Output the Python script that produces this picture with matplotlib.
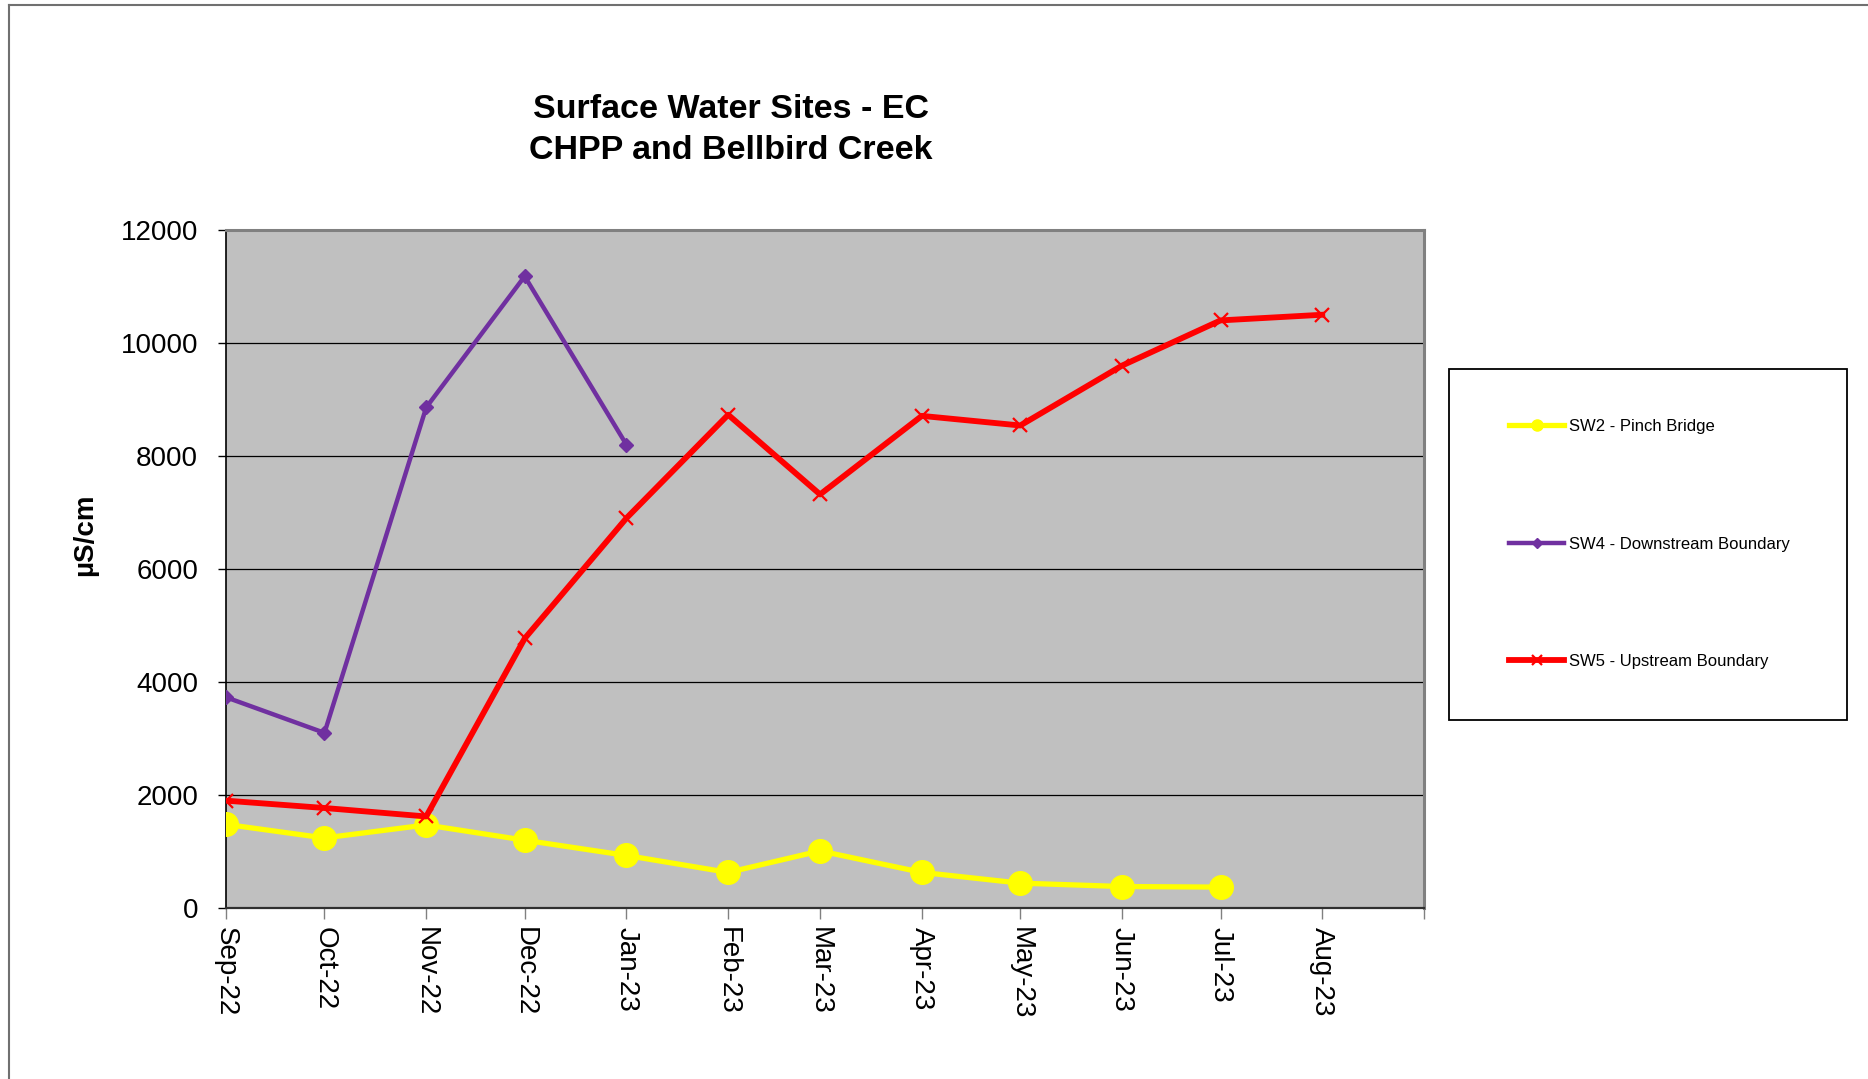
import datetime as dt
import matplotlib
matplotlib.use("Agg")
import matplotlib.pyplot as plt
import matplotlib.dates as mdates
from matplotlib.lines import Line2D

plt.rcParams['font.family'] = ['Liberation Sans', 'DejaVu Sans']

# sample months (first of month)
months = [dt.date(2022, 9, 1), dt.date(2022, 10, 1), dt.date(2022, 11, 1),
          dt.date(2022, 12, 1), dt.date(2023, 1, 1), dt.date(2023, 2, 1),
          dt.date(2023, 3, 1), dt.date(2023, 4, 1), dt.date(2023, 5, 1),
          dt.date(2023, 6, 1), dt.date(2023, 7, 1), dt.date(2023, 8, 1)]

sw2 = [1480, 1240, 1470, 1200, 930, 630, 1010, 630, 440, 380, 370]
sw4 = [3730, 3100, 8860, 11180, 8200]
sw5 = [1900, 1770, 1620, 4770, 6900, 8730, 7320, 8710, 8540, 9600, 10400, 10500]

labels = ['SW2 - Pinch Bridge', 'SW4 - Downstream Boundary', 'SW5 - Upstream Boundary']
tick_labels = ['Sep-22', 'Oct-22', 'Nov-22', 'Dec-22', 'Jan-23', 'Feb-23',
               'Mar-23', 'Apr-23', 'May-23', 'Jun-23', 'Jul-23', 'Aug-23', '']
yticks = [0, 2000, 4000, 6000, 8000, 10000, 12000]

W, H = 1868, 1079
fig = plt.figure(figsize=(W / 100, H / 100), dpi=100)
ax = fig.add_axes([226 / W, 1 - 908 / H, (1424 - 226) / W, (908 - 230) / H])
ax.set_facecolor('#C0C0C0')

ax.plot(months[:len(sw2)], sw2, color='#FFFF00', lw=3.8, marker='o', ms=17,
        label=labels[0], zorder=3)
ax.plot(months[:len(sw4)], sw4, color='#7030A0', lw=3.2, marker='D', ms=7,
        label=labels[1], zorder=4)
ax.plot(months, sw5, color='#FF0000', lw=4.2, marker='x', ms=10, mew=1.6,
        label=labels[2], zorder=5)

ax.set_xlim(dt.date(2022, 9, 1), dt.date(2023, 9, 1))
ax.set_ylim(0, 12000)
ax.set_yticks(yticks)
ax.set_yticklabels([str(v) for v in yticks])
tick_dates = months + [dt.date(2023, 9, 1)]
ax.set_xticks([mdates.date2num(d) for d in tick_dates])
ax.set_xticklabels(tick_labels, rotation=270, ha='center', va='top')

ax.tick_params(axis='y', direction='out', length=6, width=1, pad=14, labelsize=20)
ax.tick_params(axis='x', direction='out', length=8, width=1, pad=6, labelsize=20,
               color='#808080')
ax.grid(axis='y', color='black', lw=0.9)
ax.set_axisbelow(True)

for s in ['top', 'right']:
    ax.spines[s].set_color('#808080')
    ax.spines[s].set_linewidth(2.2)
ax.spines['left'].set_color('black')
ax.spines['bottom'].set_color('#303030')
ax.spines['left'].set_linewidth(1.2)
ax.spines['bottom'].set_linewidth(1.6)

ax.set_ylabel('µS/cm', fontsize=20, fontweight='bold')
ax.yaxis.set_label_coords(-0.107, 0.55)

fig.text(731 / W, 1 - 130 / H, 'Surface Water Sites - EC\nCHPP and Bellbird Creek',
         ha='center', va='center', fontsize=24.5, fontweight='bold', linespacing=1.4)

# legend box
fig.patches.append(plt.Rectangle((1449 / W, 1 - 720 / H), (1847 - 1449) / W,
                                 (720 - 369) / H, transform=fig.transFigure,
                                 fill=False, ec='black', lw=1.3))
handles = [Line2D([], [], color='#FFFF00', lw=3.8, marker='o', ms=8),
           Line2D([], [], color='#7030A0', lw=3.2, marker='D', ms=5),
           Line2D([], [], color='#FF0000', lw=4.2, marker='x', ms=7, mew=1.6)]
fig.legend(handles, labels, loc='upper left', bbox_to_anchor=(1509 / W, 1 - 419 / H),
           frameon=False, fontsize=12, handlelength=3.3, handletextpad=0.3,
           labelspacing=6.15, borderpad=0, borderaxespad=0)

# outer chart border
fig.add_artist(Line2D([9 / W, 9 / W], [0, 1 - 5 / H], transform=fig.transFigure,
                      color='#707070', lw=1.5))
fig.add_artist(Line2D([9 / W, 1], [1 - 5 / H, 1 - 5 / H], transform=fig.transFigure,
                      color='#707070', lw=1.5))

fig.savefig('out.png', dpi=100)
